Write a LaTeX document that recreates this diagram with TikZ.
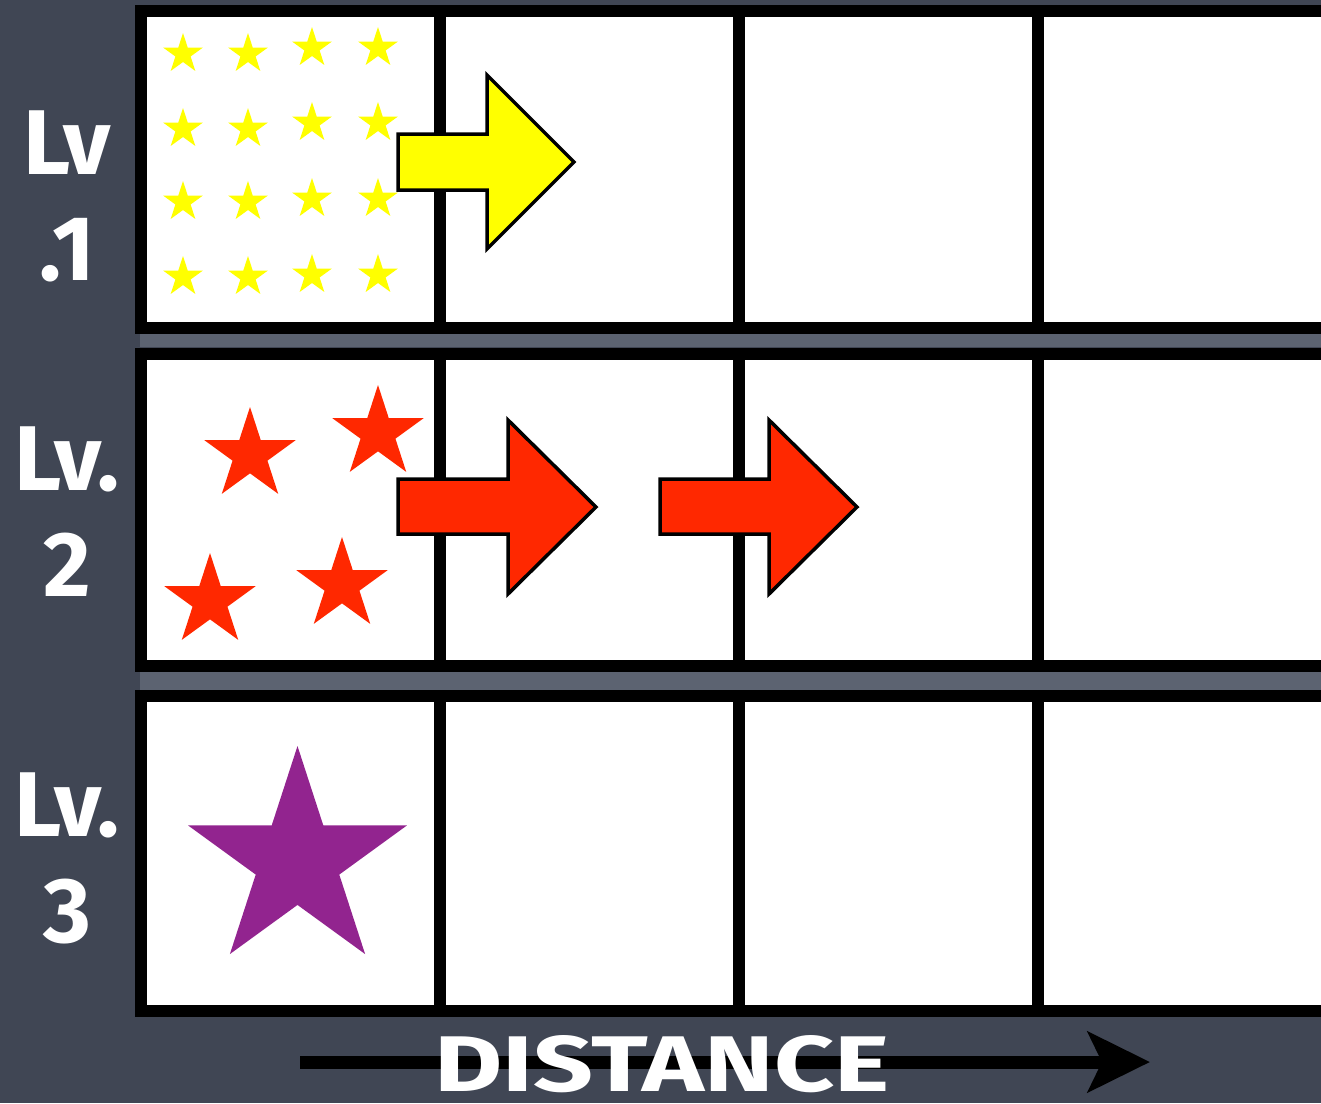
\documentclass[tikz,border=0pt]{standalone}
\usepackage{fontspec}
\setmainfont{Fira Sans}
\usepackage{graphicx}
\usetikzlibrary{shapes.geometric,arrows.meta}
\definecolor{board}{RGB}{64,70,84}
\definecolor{boardlight}{RGB}{92,99,113}
\definecolor{yelc}{RGB}{255,255,0}
\definecolor{redc}{RGB}{255,40,0}
\definecolor{purc}{RGB}{146,36,143}
\tikzset{
  cell/.style={draw=black, fill=white, line width=12pt, rectangle, inner sep=0pt, minimum width=299pt},
  starbase/.style={star, star points=5, star point ratio=2.618, inner sep=0pt, draw=none},
  ystar/.style={starbase, fill=yelc, minimum size=42pt},
  rstar/.style={starbase, fill=redc, minimum size=96pt},
  pstar/.style={starbase, fill=purc, minimum size=230pt},
  blockarrow/.style={draw=black, line width=3.5pt, line join=miter},
  lvlabel/.style={text=white, align=center, font=\fontsize{92}{106}\selectfont\bfseries, inner sep=0pt}
}
\begin{document}
\begin{tikzpicture}[x=1pt,y=-1pt]
\useasboundingbox (0,0) rectangle (1321,1103);
\clip (0,0) rectangle (1321,1103);
\fill[board] (0,0) rectangle (1321,1103);
\fill[boardlight] (140,334) rectangle (1321,347);
\fill[boardlight] (140,672) rectangle (1321,690);
% rows of cells
\foreach \r/\yc/\h in {1/169.5/317, 2/510/312, 3/853.5/315}{
  \foreach \c/\xc in {1/290.5, 2/589.5, 3/888.5, 4/1187.5}{
    \node[cell, minimum height=\h pt] (c\r\c) at (\xc,\yc) {};
  }
}
% yellow stars
\foreach \i/\x/\ya/\yb/\yc/\yd in {1/183/54/129/202/277, 2/248/54/129/202/277, 3/312/48/123/199/275, 4/378/48/123/199/275}{
  \node[ystar] (ya\i) at (\x,\ya) {};
  \node[ystar] (yb\i) at (\x,\yb) {};
  \node[ystar] (yc\i) at (\x,\yc) {};
  \node[ystar] (yd\i) at (\x,\yd) {};
}
% red stars
\node[rstar] (ra) at (250,455) {};
\node[rstar] (rb) at (378,433) {};
\node[rstar] (rc) at (210,601) {};
\node[rstar] (rd) at (342,585) {};
% purple star
\node[pstar] (pa) at (297.5,861) {};
% yellow arrow
\draw[blockarrow, fill=yelc] (398,134) -- (487,134) -- (487,75) -- (574,162) -- (487,249) -- (487,190) -- (398,190) -- cycle;
% red arrows
\draw[blockarrow, fill=redc] (398,479) -- (508,479) -- (508,420) -- (596,507) -- (508,594) -- (508,534) -- (398,534) -- cycle;
\draw[blockarrow, fill=redc] (660,479) -- (769,479) -- (769,420) -- (857,507) -- (769,594) -- (769,534) -- (660,534) -- cycle;
% labels
\node[lvlabel] (l1) at (67,196) {Lv\\.1};
\node[lvlabel] (l2) at (67,512) {Lv.\\2};
\node[lvlabel] (l3) at (67,858) {Lv.\\3};
% distance arrow
\coordinate (ds) at (300,1062);
\coordinate (de) at (1150,1062);
\draw[line width=13pt, -{Stealth[length=62pt, width=60pt, inset=14pt]}] (ds) -- (de);
\node[text=white, inner sep=0pt] (dist) at (662,1064) {\resizebox{455pt}{56pt}{\bfseries DISTANCE}};
\end{tikzpicture}
\end{document}
